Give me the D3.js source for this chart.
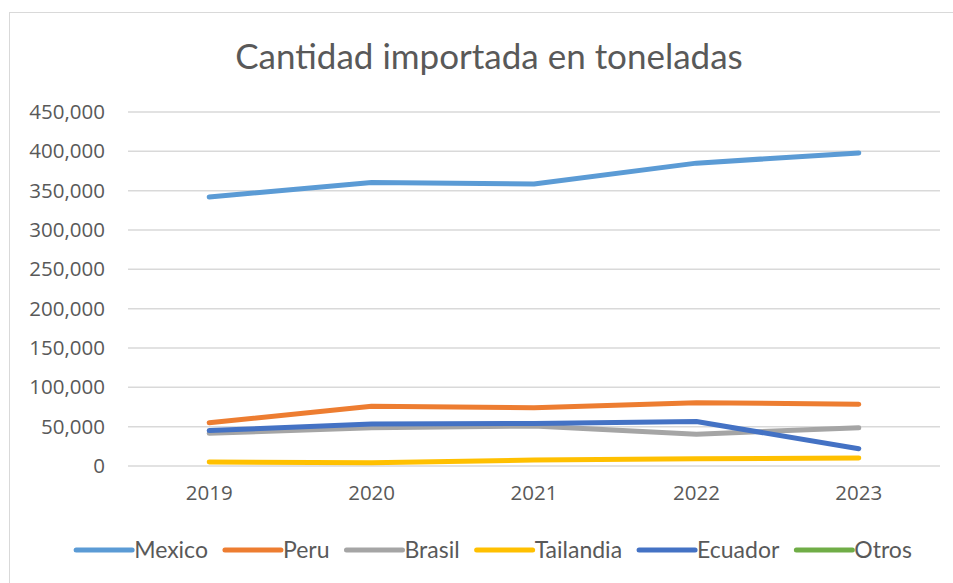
<!DOCTYPE html>
<html>
<head>
<meta charset="utf-8">
<script src="https://cdn.jsdelivr.net/npm/d3@7"></script>
<style>
    body { margin: 0; background: #ffffff; }
    svg { display: block; }
</style>
</head>
<body>
<svg id="chart"></svg>
<script>
//Data (toneladas)
const years = ["2019", "2020", "2021", "2022", "2023"];
const seriesNames = ["Mexico", "Peru", "Brasil", "Tailandia", "Ecuador", "Otros"];
const mexico = [342000, 360500, 358500, 385000, 398000];
const peru = [55000, 76000, 74000, 80500, 78500];
const brasil = [41500, 48500, 51000, 40500, 48500];
const tailandia = [5000, 4000, 7500, 9300, 10200];
const ecuador = [45000, 53500, 54000, 56500, 22000];
const otros = [null, null, null, null, null];
const yTicks = [0, 50000, 100000, 150000, 200000, 250000, 300000, 350000, 400000, 450000];
const colors = ["#5B9BD5", "#ED7D31", "#A5A5A5", "#FFC000", "#4472C4", "#70AD47"];

const seriesValues = [mexico, peru, brasil, tailandia, ecuador, otros];

const width = 953;
const height = 583;
const margin = {left: 128, right: 13, top: 112, bottom: 117};

const svg = d3.select("#chart")
    .attr("width", width)
    .attr("height", height);

//Chart border (runs off the right and bottom of the picture)
svg.append("rect")
    .attr("x", 9.5)
    .attr("y", 12.5)
    .attr("width", width + 20)
    .attr("height", height + 20)
    .attr("fill", "#ffffff")
    .attr("stroke", "#d9d9d9")
    .attr("stroke-width", 1);

//Title
svg.append("text")
    .attr("x", 489)
    .attr("y", 69)
    .attr("text-anchor", "middle")
    .attr("font-family", "Lato, 'Open Sans', sans-serif")
    .attr("font-size", 35)
    .attr("fill", "#595959")
    .text("Cantidad importada en toneladas");

const xScale = d3.scaleBand()
    .domain(years)
    .range([margin.left, width - margin.right]);

const yScale = d3.scaleLinear()
    .domain([0, 450000])
    .range([height - margin.bottom, margin.top]);

//Horizontal gridlines
svg.append("g")
    .selectAll("line")
    .data(yTicks)
    .join("line")
    .attr("x1", margin.left)
    .attr("x2", width - margin.right)
    .attr("y1", d => yScale(d))
    .attr("y2", d => yScale(d))
    .attr("stroke", "#d9d9d9")
    .attr("stroke-width", 1.5);

//Y axis labels
const yAxis = svg.append("g")
    .attr("transform", "translate(" + margin.left + ",0)")
    .call(d3.axisLeft(yScale)
        .tickValues(yTicks)
        .tickSize(0)
        .tickPadding(23)
        .tickFormat(d3.format(",")));
yAxis.select(".domain").remove();
yAxis.selectAll("text")
    .attr("font-family", "'Open Sans', sans-serif")
    .attr("font-size", 20.5)
    .attr("fill", "#595959");

//X axis labels
const xAxis = svg.append("g")
    .attr("transform", "translate(0," + (height - margin.bottom) + ")")
    .call(d3.axisBottom(xScale)
        .tickSize(0)
        .tickPadding(19));
xAxis.select(".domain").remove();
xAxis.selectAll("text")
    .attr("font-family", "'Open Sans', sans-serif")
    .attr("font-size", 20.5)
    .attr("fill", "#595959");

//Lines, one per country
const line = d3.line()
    .defined(d => d != null)
    .x((d, i) => xScale(years[i]) + xScale.bandwidth() / 2)
    .y(d => yScale(d));

svg.append("g")
    .selectAll("path")
    .data(seriesValues)
    .join("path")
    .attr("fill", "none")
    .attr("stroke", (d, i) => colors[i])
    .attr("stroke-width", 5)
    .attr("stroke-linecap", "round")
    .attr("stroke-linejoin", "round")
    .attr("d", line);

//Legend, centred below the chart
const legend = svg.append("g");
let legendX = 0;
seriesNames.forEach((name, i) => {
    const item = legend.append("g").attr("transform", "translate(" + legendX + ",0)");
    item.append("line")
        .attr("x1", 0)
        .attr("x2", 56)
        .attr("y1", 0)
        .attr("y2", 0)
        .attr("stroke", colors[i])
        .attr("stroke-width", 5)
        .attr("stroke-linecap", "round");
    const label = item.append("text")
        .attr("x", 58)
        .attr("y", 0)
        .attr("dy", "0.35em")
        .attr("font-family", "Lato, 'Open Sans', sans-serif")
        .attr("font-size", 23)
        .attr("fill", "#595959")
        .text(name);
    legendX += 58 + label.node().getComputedTextLength() + 17;
});
legendX -= 17;
legend.attr("transform", "translate(" + (494 - legendX / 2) + ",550)");
</script>
</body>
</html>
